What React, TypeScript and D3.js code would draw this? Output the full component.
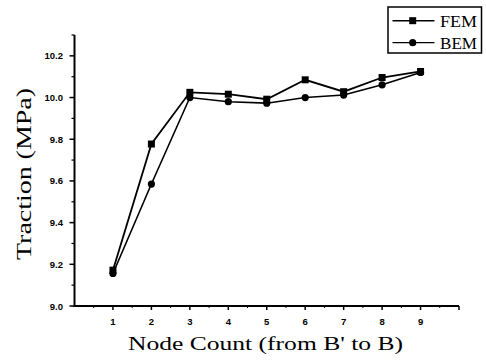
import React from "react";
import * as d3 from "d3";

const nodes = [1, 2, 3, 4, 5, 6, 7, 8, 9];
const femValues = [9.172, 9.777, 10.025, 10.016, 9.992, 10.085, 10.028, 10.096, 10.125];
const bemValues = [9.156, 9.585, 10.0, 9.98, 9.973, 10.0, 10.012, 10.061, 10.12];
const yMajorTicks = [9.0, 9.2, 9.4, 9.6, 9.8, 10.0, 10.2];
const yMinorTicks = [9.1, 9.3, 9.5, 9.7, 9.9, 10.1, 10.3];
const xMajorTicks = [1, 2, 3, 4, 5, 6, 7, 8, 9, 10];
const xMinorTicks = [0.5, 1.5, 2.5, 3.5, 4.5, 5.5, 6.5, 7.5, 8.5, 9.5];
const xTickLabels = ["1", "2", "3", "4", "5", "6", "7", "8", "9", ""];
const seriesNames = ["FEM", "BEM"];

const W = 486;
const H = 361;

export default function App() {
  const x = d3.scaleLinear().domain([0, 10]).range([74.5, 459]);
  const y = d3.scaleLinear().domain([9.0, 10.3]).range([306, 35]);
  const line = d3
    .line<number>()
    .x((_, i) => x(nodes[i]))
    .y((d) => y(d));

  const serif = "'Liberation Serif', 'Times New Roman', serif";
  const sans = "'Liberation Sans', Arial, sans-serif";

  const legendX = 388;
  const legendY = 7;

  return (
    <svg
      width={W}
      height={H}
      style={{ position: "absolute", left: 0, top: 0, background: "#fff" }}
    >
      <rect x={0} y={0} width={W} height={H} fill="#fff" />
      {/* axes */}
      <line x1={x(0)} x2={x(0)} y1={y(10.3)} y2={y(9.0) + 1} stroke="#000" strokeWidth={2} />
      <line x1={x(0) - 1} x2={x(10)} y1={y(9.0)} y2={y(9.0)} stroke="#000" strokeWidth={2} />
      {/* y ticks */}
      {yMajorTicks.map((t) => (
        <g key={"ym" + t}>
          <line x1={x(0) - 5} x2={x(0)} y1={y(t)} y2={y(t)} stroke="#000" strokeWidth={1.5} />
          <text
            x={63}
            y={y(t) + 3.5}
            textAnchor="end"
            fontFamily={sans}
            fontWeight="bold"
            fontSize={9.5}
          >
            {t.toFixed(1)}
          </text>
        </g>
      ))}
      {yMinorTicks.map((t) => (
        <line key={"yn" + t} x1={x(0) - 3} x2={x(0)} y1={y(t)} y2={y(t)} stroke="#000" strokeWidth={1.2} />
      ))}
      {/* x ticks */}
      {xMajorTicks.map((t, i) => (
        <g key={"xm" + t}>
          <line x1={x(t)} x2={x(t)} y1={y(9.0)} y2={y(9.0) + 4} stroke="#000" strokeWidth={1.5} />
          <text
            x={x(t)}
            y={325}
            textAnchor="middle"
            fontFamily={sans}
            fontWeight="bold"
            fontSize={9.5}
          >
            {xTickLabels[i]}
          </text>
        </g>
      ))}
      {xMinorTicks.map((t) => (
        <line key={"xn" + t} x1={x(t)} x2={x(t)} y1={y(9.0)} y2={y(9.0) + 2} stroke="#000" strokeWidth={1} />
      ))}
      {/* series lines */}
      <path d={line(femValues) || ""} fill="none" stroke="#000" strokeWidth={1.8} />
      <path d={line(bemValues) || ""} fill="none" stroke="#000" strokeWidth={1.6} />
      {femValues.map((v, i) => (
        <rect key={"f" + i} x={x(nodes[i]) - 3.5} y={y(v) - 3.5} width={7} height={7} fill="#000" />
      ))}
      {bemValues.map((v, i) => (
        <circle key={"b" + i} cx={x(nodes[i])} cy={y(v)} r={3.6} fill="#000" />
      ))}
      {/* axis titles */}
      <text
        x={265.5}
        y={349.5}
        textAnchor="middle"
        fontFamily={serif}
        fontSize={19}
        textLength={275}
        lengthAdjust="spacingAndGlyphs"
      >
        Node Count (from B' to B)
      </text>
      <text
        transform={`translate(31,174) rotate(-90)`}
        textAnchor="middle"
        fontFamily={serif}
        fontSize={22}
        textLength={172}
        lengthAdjust="spacingAndGlyphs"
      >
        Traction (MPa)
      </text>
      {/* legend */}
      <rect x={legendX} y={legendY} width={93.5} height={46} fill="#fff" stroke="#000" strokeWidth={1.5} />
      {seriesNames.map((name, i) => {
        const cy = 20.7 + i * 22;
        return (
          <g key={name}>
            <line x1={392.5} x2={434.5} y1={cy} y2={cy} stroke="#000" strokeWidth={i === 0 ? 1.6 : 1.3} />
            {i === 0 ? (
              <rect x={412.7 - 3.5} y={cy - 3.5} width={7} height={7} fill="#000" />
            ) : (
              <circle cx={412.7} cy={cy} r={3.6} fill="#000" />
            )}
            <text x={440} y={cy + 6} fontFamily={serif} fontSize={17.5} textLength={37} lengthAdjust="spacingAndGlyphs">
              {name}
            </text>
          </g>
        );
      })}
    </svg>
  );
}
